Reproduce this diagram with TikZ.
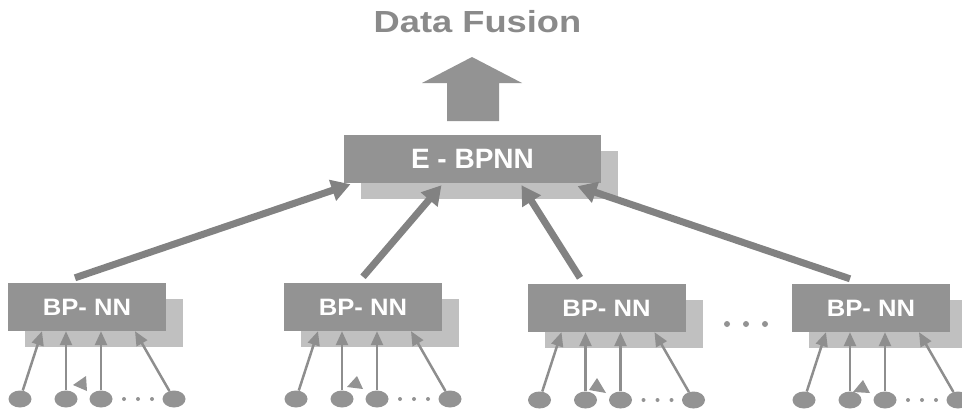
\documentclass[tikz,border=0pt]{standalone}
\usepackage{fontspec}
\setmainfont{Liberation Sans}
\usetikzlibrary{arrows.meta,shapes.geometric,shadows}
\definecolor{boxgray}{RGB}{147,147,147}
\definecolor{shadegray}{RGB}{192,192,192}
\definecolor{linegray}{RGB}{142,142,142}
\definecolor{fatgray}{RGB}{130,130,130}
\definecolor{titlegray}{RGB}{138,138,138}
\tikzset{
  netbox/.style={rectangle, fill=boxgray, text=white, inner sep=0pt, minimum height=48pt,
    drop shadow={opacity=1, fill=shadegray, shadow xshift=17pt, shadow yshift=-16pt}},
  sensor/.style={ellipse, fill=boxgray, inner sep=0pt, minimum width=23pt, minimum height=17pt},
  inarrow/.style={draw=linegray, line width=2.5pt, -{Triangle[length=14pt,width=12pt]}},
  fatarrow/.style={draw=fatgray, line width=7pt, -{Triangle[length=19pt,width=21pt]}}
}

\begin{document}
\begin{tikzpicture}[x=1pt,y=-1pt]
\useasboundingbox (0,0) rectangle (962,415);
% fused output
\node[text=titlegray, font=\bfseries\fontsize{30.5}{30}\selectfont, inner sep=0pt, anchor=base] (fusion) at (477.5,32) {\scalebox{1.19}[1]{Data Fusion}};
\fill[boxgray] (472,57) -- (522,83) -- (499,83) -- (499,121) -- (447,121) -- (447,83) -- (422,83) -- cycle;
% ensemble network
\node[netbox, minimum width=257pt, font=\bfseries\fontsize{28}{28}\selectfont] (ebp) at (472.5,159) {E - BPNN};
% local networks with their inputs
\foreach \i/\cx/\cy in {1/87/307, 2/363/307, 3/606.5/308, 4/871/308}{
  \node[netbox, minimum width=158pt, font=\bfseries\fontsize{23.7}{24}\selectfont] (bp\i) at (\cx,\cy) {\scalebox{1.08}[1]{BP- NN}};
  \foreach \j/\ex/\tx in {1/-67/-45, 2/-21/-21, 3/14/14, 4/87/48}{
    \node[sensor] (in\i\j) at (\cx+\ex,\cy+92) {};
    \draw[inarrow] (in\i\j) -- ([xshift=\tx pt]bp\i.south);
  }
  \foreach \d in {37,51,65}
    \fill[boxgray] (\cx+\d,\cy+92) circle (2);
}
\fill[boxgray] (73,385) -- (86,376) -- (87,391) -- cycle;
\fill[boxgray] (347,387) -- (357,376) -- (363,389) -- cycle;
\fill[boxgray] (589,390) -- (597,378) -- (606,393) -- cycle;
\fill[boxgray] (853,392) -- (863,380) -- (870,393) -- cycle;
% more networks
\foreach \d in {727,746,765}
  \fill[boxgray] (\d,324) circle (3);
% links to the ensemble
\draw[fatarrow] ([xshift=-12pt,yshift=5pt]bp1.north) -- ([xshift=-122pt,yshift=-1pt]ebp.south);
\draw[fatarrow] ([yshift=6pt]bp2.north) -- ([xshift=-31pt,yshift=-2pt]ebp.south);
\draw[fatarrow] ([xshift=-26.5pt,yshift=6pt]bp3.north) -- ([xshift=49pt,yshift=-2pt]ebp.south);
\draw[fatarrow] ([xshift=-21pt,yshift=5pt]bp4.north) -- ([xshift=105pt,yshift=-3pt]ebp.south);
\end{tikzpicture}
\end{document}
